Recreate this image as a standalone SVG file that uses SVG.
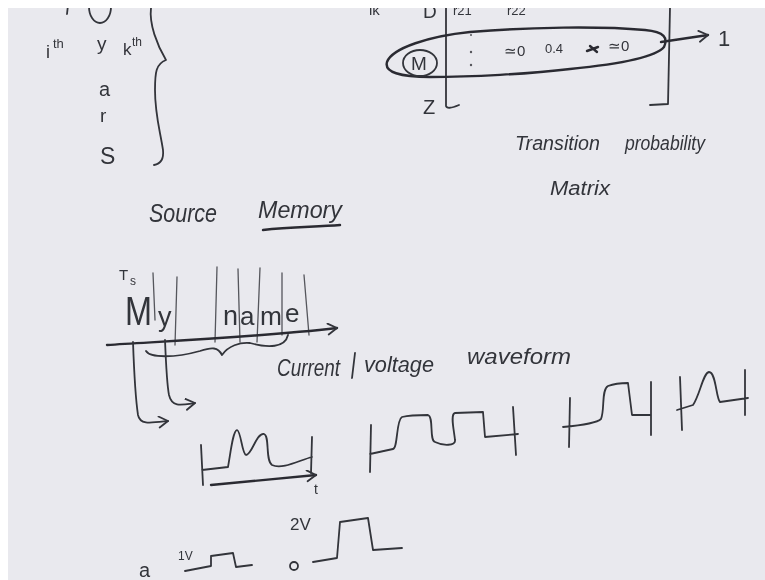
<svg xmlns="http://www.w3.org/2000/svg" width="765" height="580" viewBox="0 0 765 580">
<defs>
<filter id="soft" x="-5%" y="-5%" width="110%" height="110%"><feGaussianBlur stdDeviation="0.55"/></filter>
<marker id="head" markerWidth="14" markerHeight="14" refX="11" refY="6" orient="auto" markerUnits="userSpaceOnUse"><path d="M2 0.5L11 6L2 11.5" fill="none" stroke="#33343a" stroke-width="1.8" stroke-linecap="round" stroke-linejoin="round"/></marker>
</defs>
<style>
.s{fill:none;stroke:#33343a;stroke-width:1.8;stroke-linecap:round;stroke-linejoin:round}
.t{stroke-width:1.3;stroke:#55565c}
.h{stroke-width:2.4;stroke:#2b2c32}
text{font-family:"Liberation Sans",Arial,sans-serif;fill:#33343a}
.it{font-style:italic}
</style>
<rect width="765" height="580" fill="#e9e9ee"/>
<g filter="url(#soft)">
<g id="left-list">
<ellipse class="s" cx="100" cy="7" rx="11" ry="16"/>
<path class="s" d="M68 5L67 14"/>
<text x="46" y="58" font-size="18">i</text><text x="53" y="48" font-size="13">th</text>
<text x="97" y="50" font-size="19">y</text>
<text x="123" y="55" font-size="17">k</text><text x="132" y="46" font-size="12">th</text>
<text x="99" y="96" font-size="20">a</text>
<text x="100" y="122" font-size="19">r</text>
<text x="100" y="164" font-size="23">S</text>
<path class="s" d="M151 8C149 24 157 45 166 60C156 64 155 72 155 90C155 115 160 130 163 150C164 160 160 164 154 165"/>
</g>
<g id="source-memory">
<text x="149" y="222" font-size="26" class="it" textLength="68" lengthAdjust="spacingAndGlyphs">Source</text>
<text x="258" y="218" font-size="24" class="it" textLength="84" lengthAdjust="spacingAndGlyphs">Memory</text>
<path class="s h" d="M263 230C290 227 315 227 340 225"/>
</g>
<g id="matrix">
<text x="369" y="15" font-size="15">lk</text>
<text x="423" y="18" font-size="19">D</text>
<text x="453" y="15" font-size="13">r21</text>
<text x="507" y="15" font-size="13">r22</text>
<path class="s" d="M446 8L446 106Q447 110 459 105"/>
<path class="s" d="M670 8L668 104L650 105"/>
<text x="423" y="114" font-size="20">Z</text>
<path class="s h" d="M387 62C392 48 430 36 470 32C530 27 600 26 645 30C665 32 668 38 664 47C655 58 610 65 570 69C530 74 470 77 430 77C400 77 384 72 387 62Z"/>
<ellipse class="s" cx="420" cy="63" rx="17" ry="13"/>
<text x="411" y="70" font-size="19">M</text>
<circle cx="471" cy="35" r="1" fill="#55565c"/><circle cx="471" cy="52" r="1.2" fill="#55565c"/><circle cx="471" cy="65" r="1.2" fill="#55565c"/>
<text x="504" y="56" font-size="15">≃0</text>
<text x="545" y="53" font-size="13">0.4</text>
<path class="s h" d="M587 51L598 47M590 46L597 52"/>
<text x="608" y="51" font-size="15">≃0</text>
<path class="s h" d="M661 42L708 35" marker-end="url(#head)"/>
<text x="718" y="46" font-size="22">1</text>
<text x="515" y="150" font-size="20" class="it" textLength="85" lengthAdjust="spacingAndGlyphs">Transition</text>
<text x="625" y="150" font-size="20" class="it" textLength="80" lengthAdjust="spacingAndGlyphs">probability</text>
<text x="550" y="195" font-size="20" class="it" textLength="60" lengthAdjust="spacingAndGlyphs">Matrix</text>
</g>
<g id="my-name">
<text x="119" y="280" font-size="15">T</text><text x="130" y="285" font-size="12">s</text>
<text x="125" y="325" font-size="40" textLength="27" lengthAdjust="spacingAndGlyphs">M</text>
<text x="158" y="326" font-size="27">y</text>
<text x="223" y="325" font-size="27">n</text>
<text x="240" y="325" font-size="26">a</text>
<text x="260" y="325" font-size="26" textLength="22" lengthAdjust="spacingAndGlyphs">m</text>
<text x="285" y="322" font-size="26">e</text>
<path class="s t" d="M153 273L155 320M177 277L175 345M217 267L215 342M238 269L240 342M260 268L257 342M282 273L282 335M304 275L309 335"/>
<path class="s h" d="M107 345C170 341 260 337 337 328" marker-end="url(#head)"/>
<path class="s" d="M146 351C150 358 175 358 200 351C212 347 218 347 222 355C228 346 240 342 250 343C268 348 285 348 288 335"/>
<path class="s" d="M133 342C134 370 135 395 138 415C140 425 150 423 168 421" marker-end="url(#head)"/>
<path class="s" d="M165 340C166 365 167 385 169 395C172 408 182 405 195 403" marker-end="url(#head)"/>
<text x="277" y="376" font-size="24" class="it" textLength="63" lengthAdjust="spacingAndGlyphs">Current</text>
<path class="s" d="M355 353L352 378"/>
<text x="364" y="372" font-size="22" class="it" textLength="70" lengthAdjust="spacingAndGlyphs">voltage</text>
<text x="467" y="364" font-size="22" class="it" textLength="104" lengthAdjust="spacingAndGlyphs">waveform</text>
</g>
<g id="waveforms">
<path class="s" d="M201 445L203 485M312 437L311 473M202 470L228 467C231 450 233 431 237 430C241 431 242 454 246 455C252 455 256 433 264 434C270 436 265 460 272 465C282 470 300 460 312 457"/>
<path class="s h" d="M211 485L316 475" marker-end="url(#head)"/>
<text x="314" y="494" font-size="14">t</text>
<path class="s" d="M371 425L370 472M513 407L516 455M370 454L393 449C398 448 396 420 402 417C410 415 420 415 428 415C434 417 429 440 435 442C443 446 456 446 455 440C454 430 450 414 455 413L483 412L485 437L518 434"/>
<path class="s" d="M570 398L569 447M651 382L651 435M563 427C585 425 597 423 601 419C605 410 601 390 608 386C616 383 622 383 628 383L632 415L650 415"/>
<path class="s" d="M680 377L682 430M745 370L745 415M677 410L693 405C700 395 703 373 709 372C716 372 716 398 720 402L748 398"/>
</g>
<g id="levels">
<text x="139" y="577" font-size="20">a</text>
<text x="178" y="560" font-size="12">1V</text>
<path class="s" d="M185 571L211 566L211 556L233 553L236 567L252 565"/>
<circle class="s" cx="294" cy="566" r="4"/>
<text x="290" y="530" font-size="17">2V</text>
<path class="s" d="M313 562L337 558L340 522L368 518L373 550L402 548"/>
</g>
</g>
<path d="M0 0H765V8H8V580H0Z" fill="#fff"/>
</svg>
